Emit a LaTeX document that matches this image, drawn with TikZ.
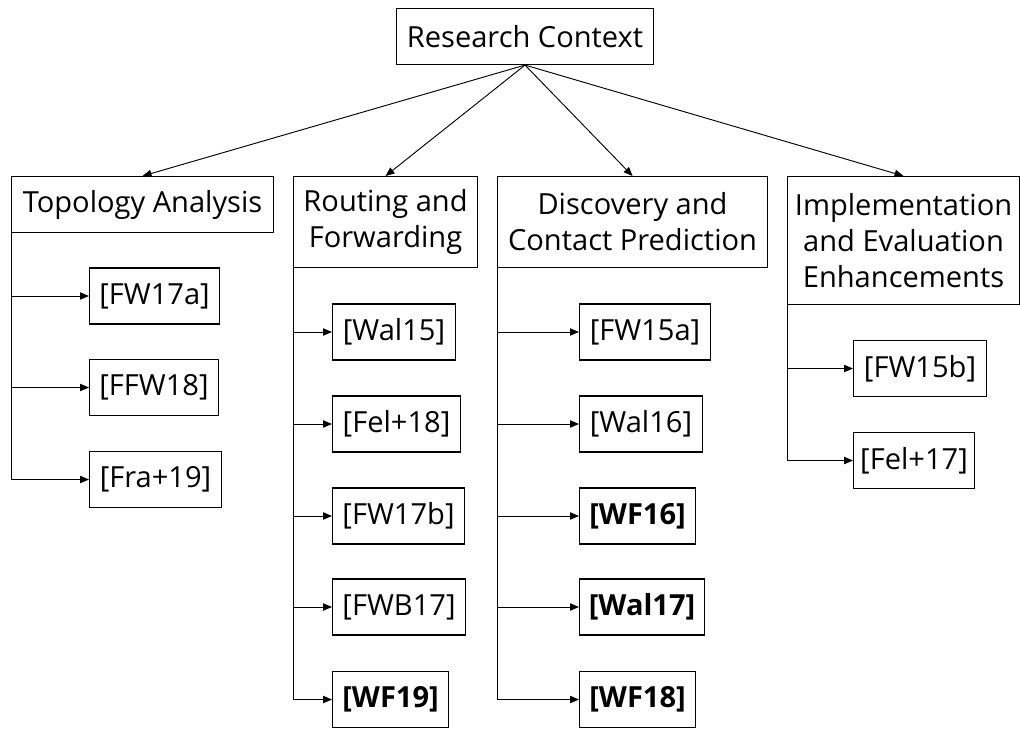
\documentclass[tikz,border=0pt]{standalone}
\usepackage{fontspec}
\setmainfont{Open Sans}
\usetikzlibrary{arrows.meta}
\begin{document}
\begin{tikzpicture}[x=0.75pt,y=-0.75pt,
  box/.style={draw, line width=0.8pt, inner sep=0pt, align=center,
    font=\fontsize{21.8}{27}\selectfont, minimum height=42pt},
  pxw/.style={minimum width={#1*0.75pt}},
  pxh/.style={minimum height={#1*0.75pt}},
  ref/.style={box, anchor=west},
  cat/.style={box, anchor=north west},
  link/.style={line width=0.7pt, -{Triangle[length=6.75pt,width=5.5pt]}},
  branch/.style={line width=0.7pt, -{Triangle[length=6.75pt,width=5.5pt]}}
]
\useasboundingbox (0,0) rectangle (1020,729);

% root
\node[box, anchor=north west, pxw=257, pxh=56] (root) at (396,8) {Research Context};

% categories
\node[cat, pxw=262, pxh=56]  (topo) at (11,176)  {Topology Analysis};
\node[cat, pxw=184, pxh=91]  (rout) at (293,176) {Routing and\\Forwarding};
\node[cat, pxw=270, pxh=91]  (disc) at (497,176) {Discovery and\\Contact Prediction};
\node[cat, pxw=232, pxh=128] (impl) at (787,176) {Implementation\\and Evaluation\\Enhancements};

\foreach \c in {topo,rout,disc,impl}
  \draw[link] (root.south) -- (\c.north);

% topology analysis
\node[ref, pxw=130] (fw17a)  at (89,296)   {[FW17a]};
\node[ref, pxw=129] (ffw18)  at (89,387.5) {[FFW18]};
\node[ref, pxw=132] (fra19)  at (89,479.5) {[Fra+19]};

% routing and forwarding
\node[ref, pxw=123] (wal15)  at (332,332)   {[Wal15]};
\node[ref, pxw=128] (fel18)  at (332,424)   {[Fel+18]};
\node[ref, pxw=132] (fw17b)  at (332,516)   {[FW17b]};
\node[ref, pxw=133] (fwb17)  at (332,607)   {[FWB17]};
\node[ref, pxw=116] (wf19)   at (332,699.5) {\bfseries [WF19]};

% discovery and contact prediction
\node[ref, pxw=131] (fw15a)  at (579,332)   {[FW15a]};
\node[ref, pxw=123] (wal16)  at (579,424)   {[Wal16]};
\node[ref, pxw=116] (wf16)   at (579,516)   {\bfseries [WF16]};
\node[ref, pxw=125] (wal17)  at (579,607)   {\bfseries [Wal17]};
\node[ref, pxw=116] (wf18)   at (579,699.5) {\bfseries [WF18]};

% implementation and evaluation
\node[ref, pxw=133] (fw15b)  at (853,368.5) {[FW15b]};
\node[ref, pxw=121] (fel17)  at (853,460.5) {[Fel+17]};

% branches
\foreach \c in {fw17a,ffw18,fra19}
  \draw[branch] (topo.south west) |- (\c.west);
\foreach \c in {wal15,fel18,fw17b,fwb17,wf19}
  \draw[branch] (rout.south west) |- (\c.west);
\foreach \c in {fw15a,wal16,wf16,wal17,wf18}
  \draw[branch] (disc.south west) |- (\c.west);
\foreach \c in {fw15b,fel17}
  \draw[branch] (impl.south west) |- (\c.west);
\end{tikzpicture}
\end{document}
